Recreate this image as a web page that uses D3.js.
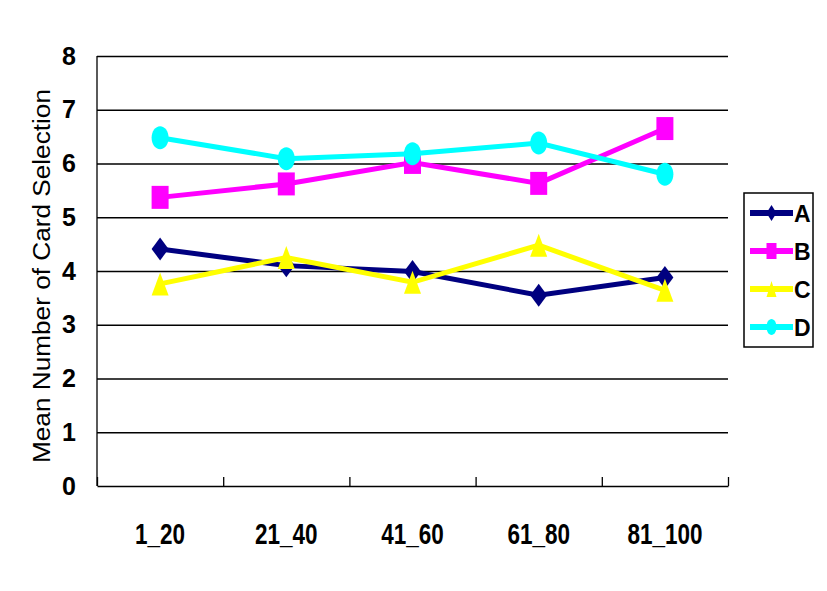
<!DOCTYPE html>
<html>
<head>
<meta charset="utf-8">
<script src="https://cdn.jsdelivr.net/npm/d3@7"></script>
<style>
  body { margin: 0; background: #fff; }
  svg { display: block; font-family: "Liberation Sans", Arial, sans-serif; }
</style>
</head>
<body>
<svg id="svg" width="827" height="591"></svg>
<script>
const categories = ['1_20', '21_40', '41_60', '61_80', '81_100']
const seriesNames = ['A', 'B', 'C', 'D']
const seriesA = [4.41, 4.10, 3.99, 3.55, 3.88]
const seriesB = [5.37, 5.62, 6.02, 5.63, 6.65]
const seriesC = [3.76, 4.25, 3.79, 4.48, 3.64]
const seriesD = [6.48, 6.09, 6.18, 6.38, 5.80]
const yTicks = [0, 1, 2, 3, 4, 5, 6, 7, 8]

const colours = ['#000080', '#ff00ff', '#ffff00', '#00ffff']
const shapes = ['diamond', 'square', 'triangle', 'circle']

const series = [seriesA, seriesB, seriesC, seriesD].map((values, i) => ({
  name: seriesNames[i],
  colour: colours[i],
  shape: shapes[i],
  points: values.map((v, j) => ({ cat: categories[j], value: v }))
}))

const margin = { top: 56, right: 99, bottom: 105, left: 97 }
const width = 827
const height = 591
const plotRight = width - margin.right
const plotBottom = height - margin.bottom

const xScale = d3.scaleBand()
  .domain(categories)
  .range([margin.left, plotRight])

const yScale = d3.scaleLinear()
  .domain([0, 8])
  .range([plotBottom, margin.top])

const svg = d3.select('#svg')

// marker path, w x h box centred on 0,0
const markerPath = (shape, w, h) => {
  const p = d3.path()
  if (shape === 'diamond') {
    p.moveTo(0, -h / 2); p.lineTo(w / 2, 0); p.lineTo(0, h / 2); p.lineTo(-w / 2, 0)
  } else if (shape === 'square') {
    p.rect(-w / 2, -h / 2, w, h)
  } else if (shape === 'triangle') {
    p.moveTo(0, -h / 2); p.lineTo(w / 2, h / 2); p.lineTo(-w / 2, h / 2)
  } else {
    // ellipse from four curves
    const k = 0.5523
    p.moveTo(0, -h / 2)
    p.bezierCurveTo(k * w / 2, -h / 2, w / 2, -k * h / 2, w / 2, 0)
    p.bezierCurveTo(w / 2, k * h / 2, k * w / 2, h / 2, 0, h / 2)
    p.bezierCurveTo(-k * w / 2, h / 2, -w / 2, k * h / 2, -w / 2, 0)
    p.bezierCurveTo(-w / 2, -k * h / 2, -k * w / 2, -h / 2, 0, -h / 2)
  }
  p.closePath()
  return p.toString()
}

// gridlines
const grid = d3.axisLeft(yScale)
  .tickValues(yTicks.filter(d => d > 0))
  .tickSize(-(plotRight - margin.left))
  .tickFormat('')
svg.append('g')
  .attr('transform', `translate(${margin.left}, 0)`)
  .call(grid)
  .call(g => g.select('.domain').remove())
  .call(g => g.selectAll('line').attr('stroke', '#000').attr('stroke-width', 1.3))

// y labels
const yAxis = d3.axisLeft(yScale)
  .tickValues(yTicks)
  .tickSize(0)
  .tickPadding(21)
svg.append('g')
  .attr('transform', `translate(${margin.left}, 0)`)
  .call(yAxis)
  .call(g => g.select('.domain').remove())
  .call(g => g.selectAll('text')
    .attr('font-family', '"Liberation Sans", Arial, sans-serif')
    .attr('font-size', 25)
    .attr('font-weight', 'bold')
    .attr('fill', '#000'))

// left axis line
svg.append('line')
  .attr('x1', margin.left).attr('x2', margin.left)
  .attr('y1', margin.top).attr('y2', plotBottom)
  .attr('stroke', '#000').attr('stroke-width', 1.3)

// x axis with inward ticks at category boundaries
const boundScale = d3.scaleLinear()
  .domain([0, categories.length])
  .range([margin.left, plotRight])
svg.append('g')
  .attr('transform', `translate(0, ${plotBottom})`)
  .call(d3.axisBottom(boundScale).ticks(categories.length).tickSize(-9).tickSizeOuter(0).tickFormat(''))
  .call(g => g.select('.domain').attr('stroke', '#000').attr('stroke-width', 1.3))
  .call(g => g.selectAll('line').attr('stroke', '#000').attr('stroke-width', 1.3))

// x labels
svg.append('g')
  .selectAll('text')
  .data(categories)
  .enter()
  .append('text')
  .attr('transform', d => `translate(${xScale(d) + xScale.bandwidth() / 2}, 544) scale(0.75, 1)`)
  .attr('text-anchor', 'middle')
  .attr('font-size', 30)
  .attr('font-weight', 'bold')
  .text(d => d)

// y title
svg.append('text')
  .attr('transform', `translate(50, ${(margin.top + plotBottom) / 2 + 5}) rotate(-90)`)
  .attr('text-anchor', 'middle')
  .attr('font-size', 23)
  .attr('textLength', 374)
  .attr('lengthAdjust', 'spacingAndGlyphs')
  .text('Mean Number of Card Selection')

// series lines and markers
const line = d3.line()
  .x(d => xScale(d.cat) + xScale.bandwidth() / 2)
  .y(d => yScale(d.value))

const seriesGroup = svg.append('g')
series.forEach(s => {
  const g = seriesGroup.append('g')
  g.append('path')
    .datum(s.points)
    .attr('d', line)
    .attr('fill', 'none')
    .attr('stroke', s.colour)
    .attr('stroke-width', 5)
  g.selectAll('path.marker')
    .data(s.points)
    .enter()
    .append('path')
    .attr('class', 'marker')
    .attr('transform', d => `translate(${xScale(d.cat) + xScale.bandwidth() / 2}, ${yScale(d.value)})`)
    .attr('d', markerPath(s.shape, 17, 23))
    .attr('fill', s.colour)
})

// legend
const legend = svg.append('g')
legend.append('rect')
  .attr('x', 744).attr('y', 193)
  .attr('width', 69).attr('height', 154)
  .attr('fill', '#fff')
  .attr('stroke', '#000')
  .attr('stroke-width', 1.5)

const legendY = d3.scalePoint()
  .domain(seriesNames)
  .range([213, 327])

series.forEach(s => {
  const y = legendY(s.name)
  const g = legend.append('g').attr('transform', `translate(0, ${y})`)
  g.append('line')
    .attr('x1', 750).attr('x2', 793)
    .attr('stroke', s.colour)
    .attr('stroke-width', 6)
  g.append('path')
    .attr('transform', 'translate(771.5, 0)')
    .attr('d', markerPath(s.shape, 10, 16))
    .attr('fill', s.colour)
  g.append('text')
    .attr('x', 794)
    .attr('y', 8.5)
    .attr('font-size', 23)
    .attr('font-weight', 'bold')
    .text(s.name)
})
</script>
</body>
</html>
